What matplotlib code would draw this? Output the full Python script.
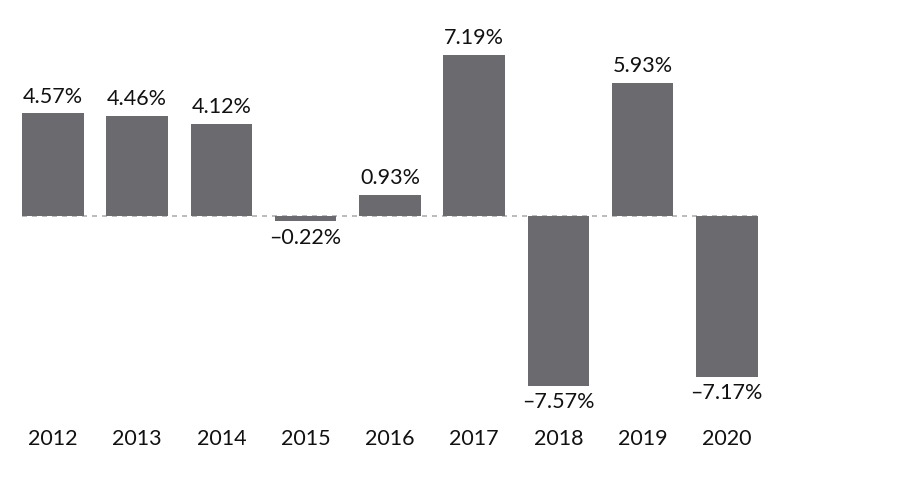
import matplotlib
matplotlib.use('Agg')
import matplotlib.pyplot as plt

years = ['2012', '2013', '2014', '2015', '2016', '2017', '2018', '2019', '2020']
returns = [4.57, 4.46, 4.12, -0.22, 0.93, 7.19, -7.57, 5.93, -7.17]

plt.rcParams['font.family'] = ['Lato', 'DejaVu Sans']

fig = plt.figure(figsize=(9.02, 4.90), dpi=100)
ax = fig.add_axes([0, 0, 1, 1])

x = list(range(len(years)))
ax.bar(x, returns, width=0.73, color='#6b6b6f', zorder=2)
ax.plot([-0.37, len(years) - 1 + 0.37], [0, 0], color='#b0b0b0',
        linestyle=(0, (3, 3)), linewidth=1.2, zorder=1)

for i, v in enumerate(returns):
    txt = ('%.2f%%' % abs(v)) if v >= 0 else ('\u2013%.2f%%' % abs(v))
    if v >= 0:
        ax.text(i, v + 0.3, txt, ha='center', va='bottom', fontsize=15.5, color='#111111')
    else:
        ax.text(i, v - 0.3, txt, ha='center', va='top', fontsize=15.5, color='#111111')
    ax.text(i, -9.95, years[i], ha='center', va='center', fontsize=15.5, color='#111111')

ax.set_xlim(-0.629, 10.08)
ax.set_ylim(-12.22, 9.63)
ax.axis('off')

fig.savefig('out.png', dpi=100)
